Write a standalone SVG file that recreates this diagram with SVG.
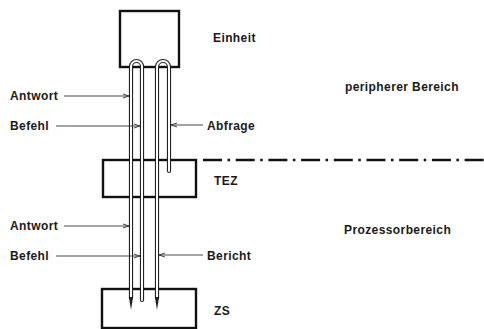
<svg xmlns="http://www.w3.org/2000/svg" width="484" height="329" viewBox="0 0 484 329">
<style>
text{font-family:"Liberation Sans",Arial,sans-serif;font-size:12px;font-weight:bold;letter-spacing:0.4px;fill:#1a1a1a}
.box{fill:#fff;stroke:#111;stroke-width:2.4}
.tubeo{fill:none;stroke:#222;stroke-width:4.2;stroke-linecap:round}
.tubei{fill:none;stroke:#fff;stroke-width:2;stroke-linecap:round}
.lead{fill:none;stroke:#333;stroke-width:0.9;marker-end:url(#ah)}
.sep{fill:none;stroke:#111;stroke-width:2.6;stroke-dasharray:19 5.5 2.5 5.7}
</style>
<defs>
<marker id="ah" viewBox="0 0 6 6" refX="6" refY="3" markerWidth="6" markerHeight="6" markerUnits="userSpaceOnUse" orient="auto">
<path d="M0,1 L6,3 L0,5" fill="none" stroke="#333" stroke-width="0.9"/>
</marker>
</defs>
<rect width="484" height="329" fill="#fff"/>
<line class="sep" x1="203" y1="160" x2="484" y2="160"/>
<g id="einheit"><rect class="box" x="120" y="11" width="59" height="56"/><text x="213" y="42">Einheit</text></g>
<g id="tez"><rect class="box" x="103" y="160" width="93" height="37"/><text x="214" y="185">TEZ</text></g>
<g id="zs"><rect class="box" x="102" y="289" width="94" height="39"/><text x="214" y="315">ZS</text></g>
<g id="regions">
<text x="345" y="91">peripherer Bereich</text>
<text x="344" y="234">Prozessorbereich</text>
</g>
<g id="connectors">
<path class="tubeo" d="M131,298 V66.5 A5.5,5.5 0 0 1 142,66.5 V300"/>
<path class="tubei" d="M131,298 V66.5 A5.5,5.5 0 0 1 142,66.5 V300"/>
<path class="tubeo" d="M157,298 V67 A6,6 0 0 1 169,67 V171"/>
<path class="tubei" d="M157,298 V67 A6,6 0 0 1 169,67 V171"/>
<polygon points="128.9,297 131,310 133.1,297" fill="#222"/>
<polygon points="154.9,297 157,310 159.1,297" fill="#222"/>
<line class="lead" x1="64" y1="96" x2="129" y2="96"/>
<line class="lead" x1="56" y1="126" x2="140" y2="126"/>
<line class="lead" x1="203" y1="125" x2="171" y2="125"/>
<line class="lead" x1="64" y1="226" x2="129" y2="226"/>
<line class="lead" x1="56" y1="256" x2="140" y2="256"/>
<line class="lead" x1="203" y1="255" x2="159" y2="255"/>
</g>
<g id="labels">
<text x="10" y="100">Antwort</text>
<text x="10" y="130">Befehl</text>
<text x="207" y="130">Abfrage</text>
<text x="10" y="230">Antwort</text>
<text x="10" y="260">Befehl</text>
<text x="207" y="260">Bericht</text>
</g>
</svg>
